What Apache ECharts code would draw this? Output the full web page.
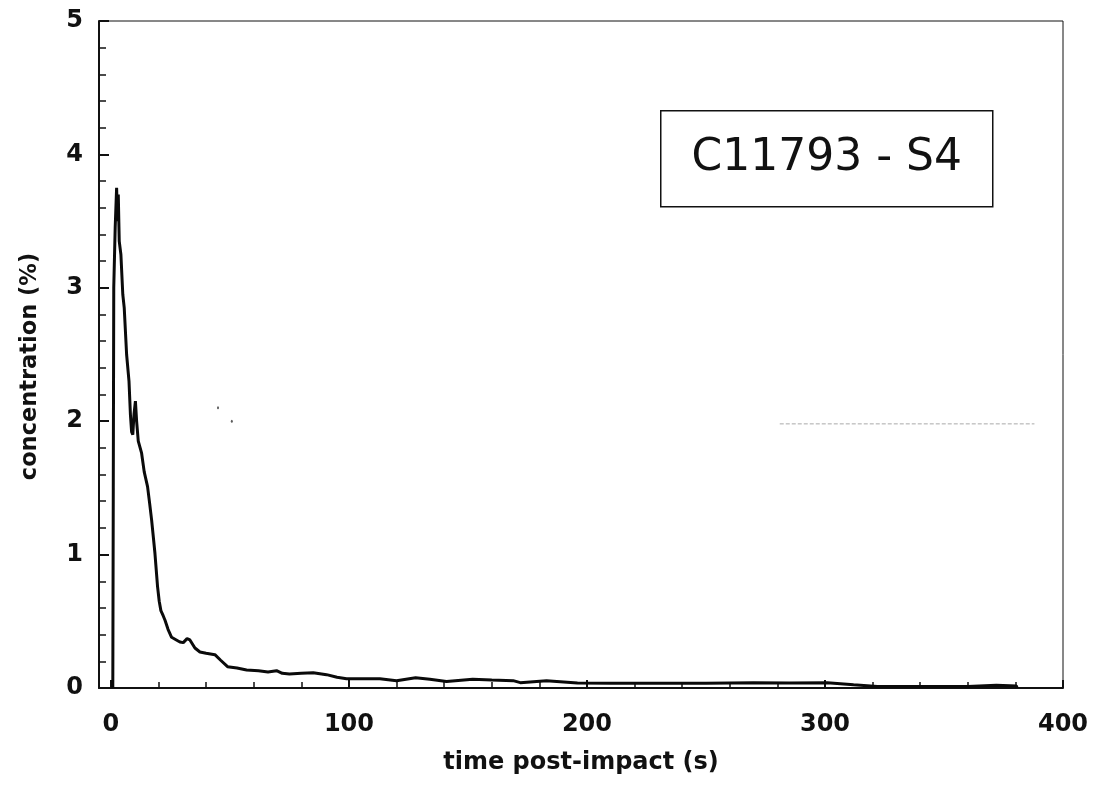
<!DOCTYPE html>
<html>
<head>
<meta charset="utf-8">
<script src="https://cdn.jsdelivr.net/npm/echarts@6/dist/echarts.min.js"></script>
<style>
html,body{margin:0;padding:0;background:#fff;}
#chart{width:1097px;height:806px;}
</style>
</head>
<body>
<div id="chart"></div>
<script>
// time post-impact (s)
const timeS = [0.8, 1.0, 1.2, 1.8, 2.4, 2.8, 3.1, 3.5, 4.2, 5.0, 5.6, 6.6, 7.6, 8.2, 8.7, 9.2, 9.7, 10.3, 10.8, 11.5,
  12.9, 14.0, 15.4, 16.3, 17.1, 18.0, 18.5, 19.6, 20.3, 21.0, 22.0, 22.7, 24.0, 25.5, 27.5, 29.0, 30.4, 32.0, 33.2, 35.3,
  37.4, 40.0, 43.7, 46.0, 49.0, 53.0, 57.0, 62, 66, 69.6, 72, 75, 80, 85, 90.6, 95, 99, 106, 113, 120,
  128, 134, 141, 152, 160, 169, 172, 183, 196, 210, 230, 250, 270, 285, 301, 312, 322, 340, 360, 372, 380.5, 380.6];
// concentration (%)
const concPct = [0, 1.5, 3.0, 3.45, 3.75, 3.5, 3.7, 3.35, 3.25, 2.95, 2.85, 2.5, 2.3, 2.05, 1.92, 1.9, 2.05, 2.15, 2.0, 1.85,
  1.76, 1.62, 1.51, 1.38, 1.26, 1.10, 1.01, 0.76, 0.65, 0.58, 0.54, 0.51, 0.44, 0.38, 0.36, 0.345, 0.34, 0.37, 0.36, 0.30,
  0.27, 0.26, 0.25, 0.21, 0.16, 0.15, 0.135, 0.13, 0.12, 0.13, 0.11, 0.105, 0.11, 0.115, 0.10, 0.08, 0.07, 0.07, 0.07, 0.055,
  0.077, 0.065, 0.048, 0.065, 0.06, 0.055, 0.04, 0.055, 0.037, 0.035, 0.035, 0.035, 0.04, 0.038, 0.04, 0.025, 0.012, 0.012, 0.012, 0.02, 0.015, 0];

// faint scan artefacts
const streakX = [281, 388];
const streakY = [1.98, 1.98];
const specksX = [45, 50.8];
const specksY = [2.10, 2.00];

const xMajorTicks = [0, 100, 200, 300, 400];
const xMinorTicks = [20, 40, 60, 80, 120, 140, 160, 180, 220, 240, 260, 280, 320, 340, 360, 380];
const annotation = 'C11793 - S4';

const FONT = 'DejaVu Sans';
const chart = echarts.init(document.getElementById('chart'));

const lineData = timeS.map((t, i) => [t, concPct[i]]);

chart.setOption({
  animation: false,
  backgroundColor: '#ffffff',
  grid: {
    left: 99, right: 34, top: 21, bottom: 118,
    show: true, borderColor: '#111', borderWidth: 1, backgroundColor: 'transparent'
  },
  xAxis: [{
    type: 'value', min: -5, max: 400,
    name: 'time post-impact (s)', nameLocation: 'middle', nameGap: 63,
    nameTextStyle: { fontFamily: FONT, fontWeight: 'bold', fontSize: 24, color: '#111' },
    axisLine: { show: true, onZero: false, lineStyle: { color: '#111', width: 2 } },
    axisTick: { show: true, inside: true, length: 8, customValues: xMajorTicks, lineStyle: { color: '#111', width: 2 } },
    axisLabel: { show: true, customValues: xMajorTicks, margin: 25, fontFamily: FONT, fontWeight: 'bold', fontSize: 24, color: '#111' },
    splitLine: { show: false }
  }, {
    type: 'value', min: -5, max: 400, position: 'bottom',
    axisLine: { show: false },
    axisTick: { show: true, inside: true, length: 6, customValues: xMinorTicks, lineStyle: { color: '#111', width: 1.5 } },
    axisLabel: { show: false },
    splitLine: { show: false }
  }],
  yAxis: {
    type: 'value', min: 0, max: 5, interval: 1,
    name: 'concentration (%)', nameLocation: 'middle', nameGap: 57,
    nameTextStyle: { fontFamily: FONT, fontWeight: 'bold', fontSize: 22.5, color: '#111', padding: [0, 24, 0, 0] },
    axisLine: { show: true, onZero: false, lineStyle: { color: '#111', width: 2 } },
    axisTick: { show: true, inside: true, length: 10, lineStyle: { color: '#111', width: 2 } },
    minorTick: { show: true, splitNumber: 5, length: 7, lineStyle: { color: '#111', width: 1.5 } },
    axisLabel: { margin: 16, fontFamily: FONT, fontWeight: 'bold', fontSize: 24, color: '#111' },
    splitLine: { show: false }
  },
  series: [{
    type: 'line',
    data: lineData,
    showSymbol: false,
    smooth: false,
    lineStyle: { color: '#0a0a0a', width: 3 },
    z: 5
  }, {
    type: 'line',
    data: streakX.map((x, i) => [x, streakY[i]]),
    showSymbol: false,
    lineStyle: { color: '#aaa', width: 1, type: [4, 2] },
    z: 2
  }, {
    type: 'scatter',
    data: specksX.map((x, i) => [x, specksY[i]]),
    symbolSize: [2, 3],
    itemStyle: { color: '#333' },
    z: 2
  }],
  graphic: [{
    type: 'group',
    left: 660, top: 110,
    children: [{
      type: 'rect',
      shape: { x: 0, y: 0, width: 332, height: 96 },
      style: { fill: '#fff', stroke: '#111', lineWidth: 1.5 }
    }, {
      type: 'text',
      x: 166, y: 48,
      style: { text: annotation, fontFamily: FONT, fontSize: 44, fill: '#111', align: 'center', verticalAlign: 'middle' }
    }]
  }]
});
</script>
</body>
</html>
